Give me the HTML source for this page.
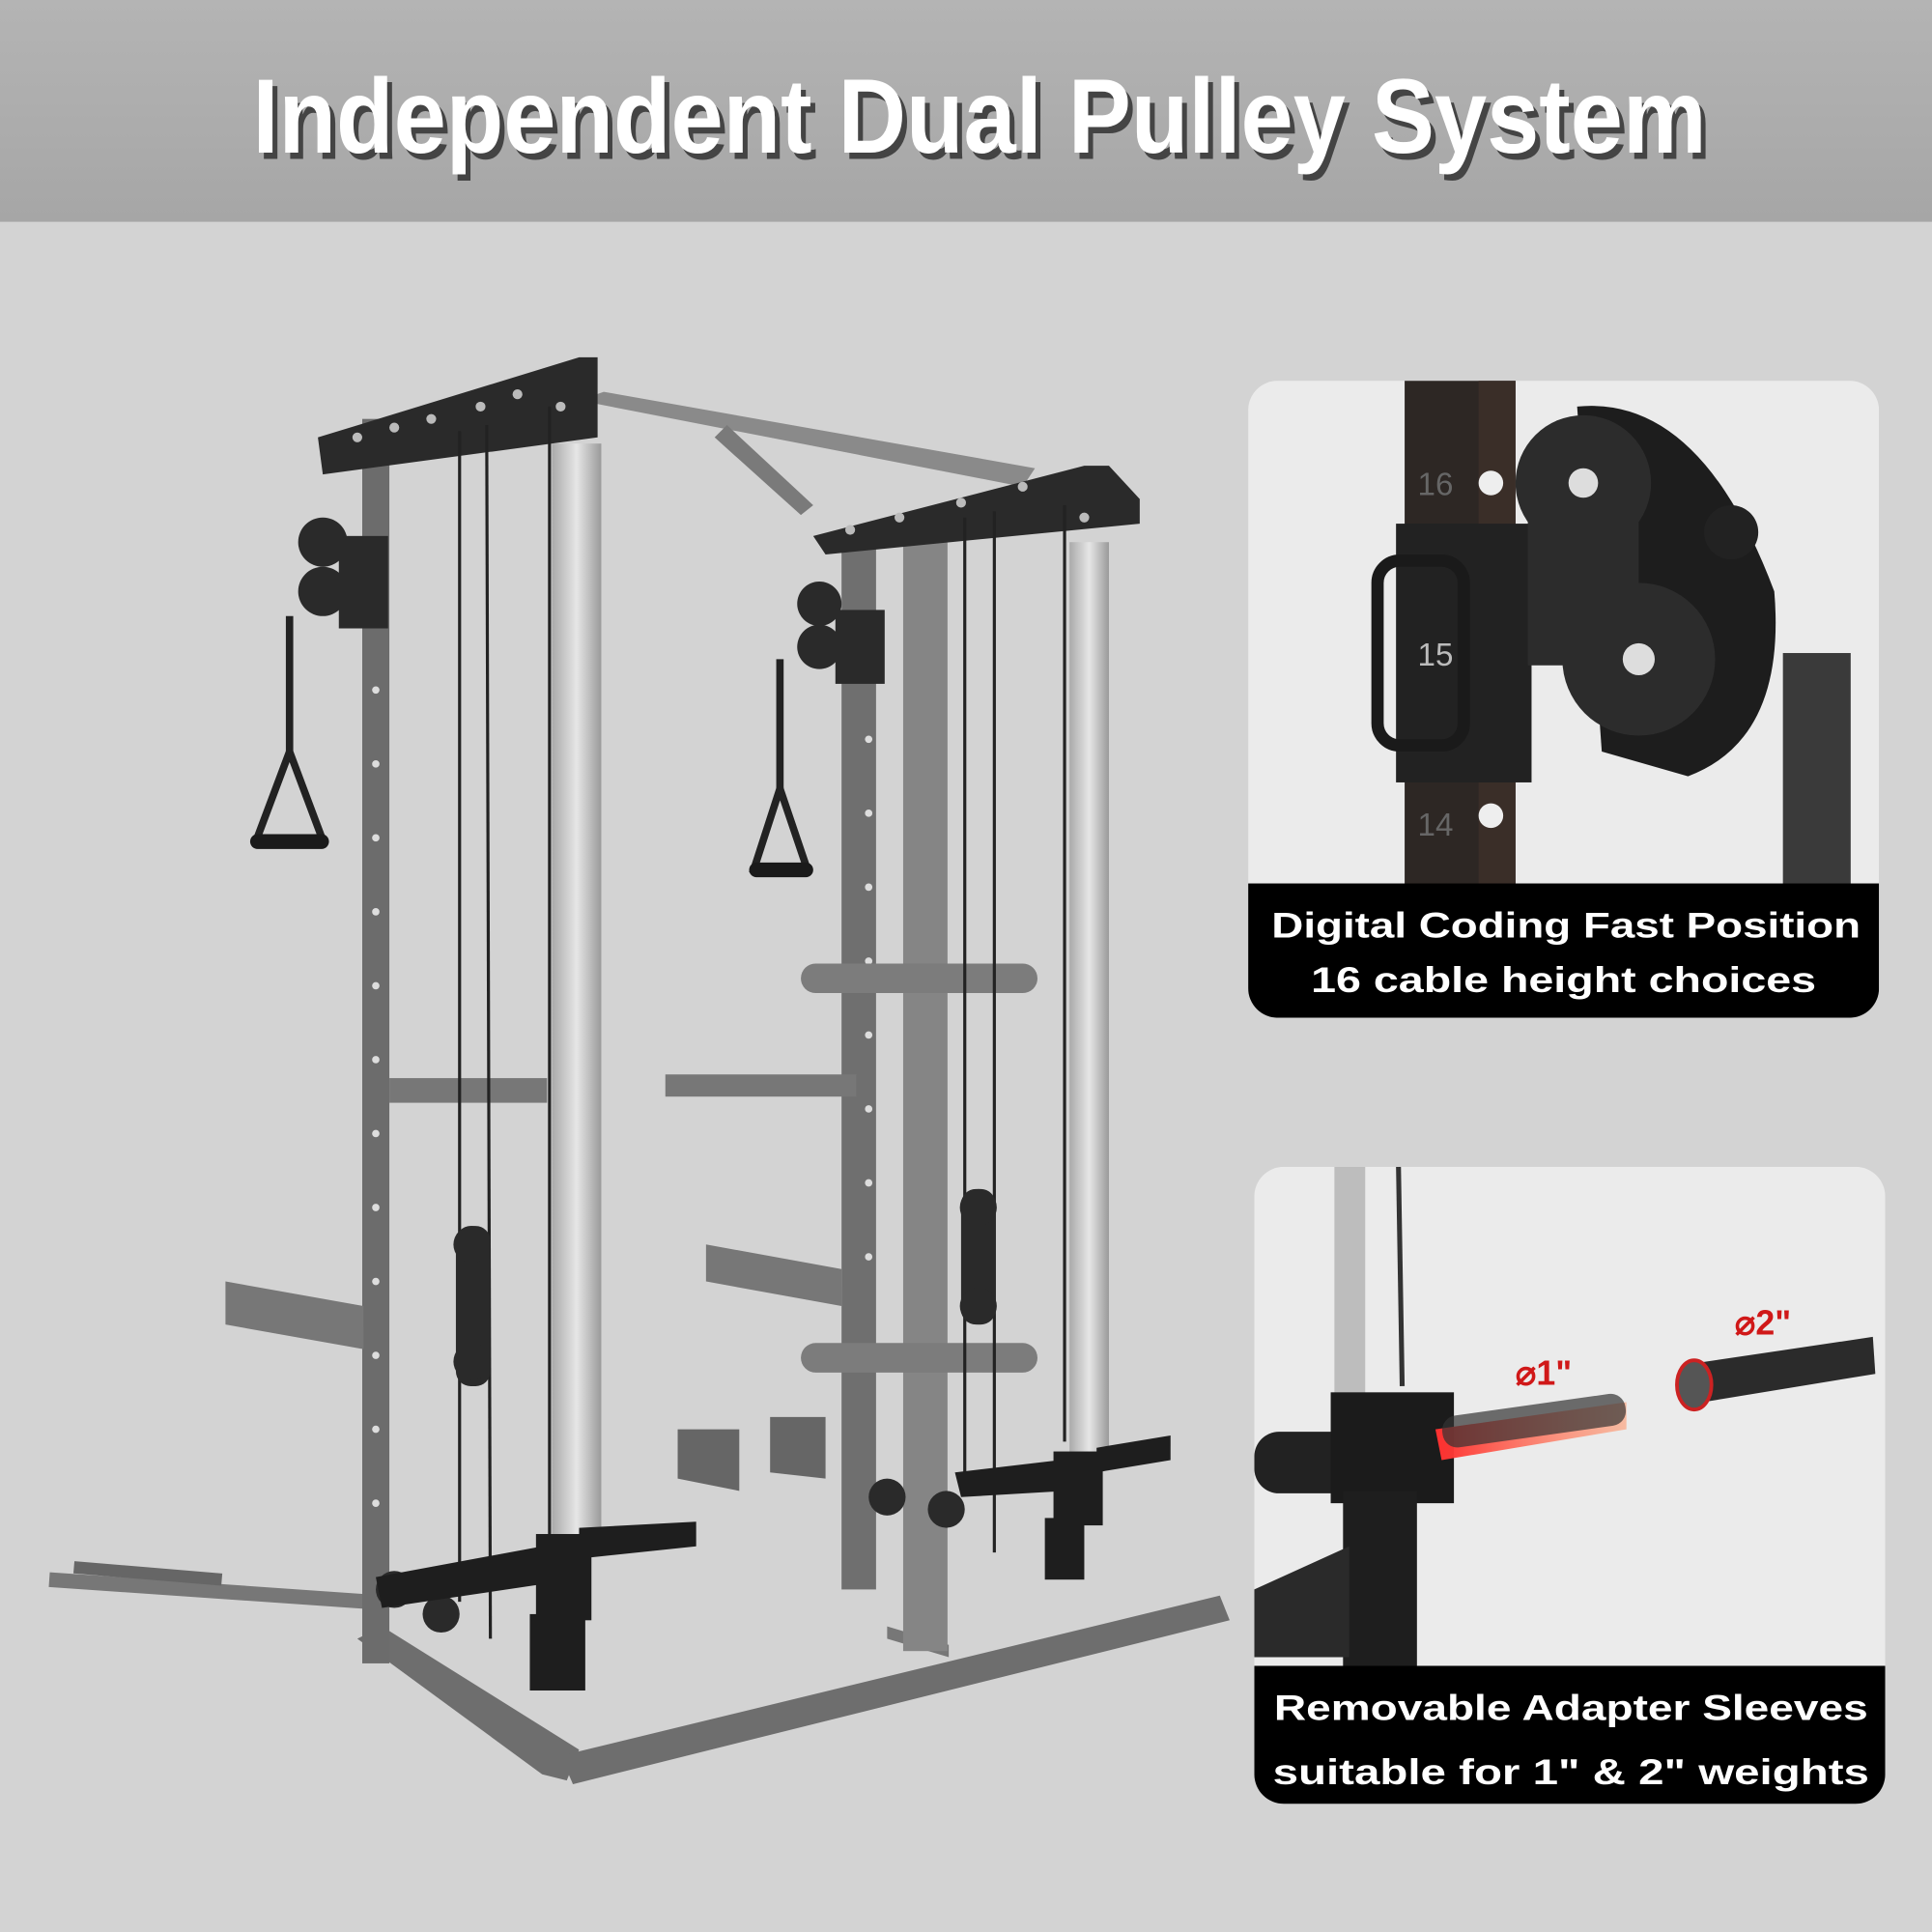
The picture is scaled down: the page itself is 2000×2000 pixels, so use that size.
<!DOCTYPE html>
<html><head><meta charset="utf-8"><style>
html,body{margin:0;padding:0;width:2000px;height:2000px;overflow:hidden;background:#d3d3d3}
svg{display:block}
</style></head><body>
<svg width="2000" height="2000" viewBox="0 0 1568 1568" xmlns="http://www.w3.org/2000/svg">
<defs>
<linearGradient id="hdr" x1="0" y1="0" x2="0" y2="1"><stop offset="0" stop-color="#b4b4b4"/><stop offset="1" stop-color="#a6a6a6"/></linearGradient>
<linearGradient id="silver" x1="0" y1="0" x2="1" y2="0"><stop offset="0" stop-color="#aaa"/><stop offset=".5" stop-color="#e6e6e6"/><stop offset="1" stop-color="#9a9a9a"/></linearGradient>
<linearGradient id="red" x1="0" y1="0" x2="1" y2="0"><stop offset="0" stop-color="#ff3030"/><stop offset="1" stop-color="#ff9a70" stop-opacity=".6"/></linearGradient>
<clipPath id="c1"><rect x="1013" y="309" width="512" height="517" rx="24"/></clipPath>
<clipPath id="c2"><rect x="1018" y="947" width="512" height="517" rx="24"/></clipPath>
</defs>
<rect width="1568" height="1568" fill="#d3d3d3"/>
<rect width="1568" height="180" fill="url(#hdr)"/>
<text x="799" y="129" font-family="Liberation Sans Narrow, Liberation Sans, sans-serif" font-weight="bold" font-size="86" fill="#444" textLength="1180" lengthAdjust="spacingAndGlyphs" text-anchor="middle">Independent Dual Pulley System</text>
<text x="795" y="124" font-family="Liberation Sans Narrow, Liberation Sans, sans-serif" font-weight="bold" font-size="86" fill="#fff" textLength="1180" lengthAdjust="spacingAndGlyphs" text-anchor="middle">Independent Dual Pulley System</text>

<!-- rack -->
<g>
<!-- base -->
<polygon points="290,1330 310,1320 470,1420 460,1445 440,1440" fill="#6e6e6e"/>
<polygon points="455,1425 990,1295 998,1315 465,1448" fill="#6e6e6e"/>
<polygon points="720,1320 770,1335 770,1345 720,1330" fill="#777"/>
<line x1="40" y1="1282" x2="300" y2="1300" stroke="#777" stroke-width="12"/>
<line x1="60" y1="1272" x2="180" y2="1282" stroke="#666" stroke-width="10"/>
<!-- top grey crossbar -->
<polygon points="470,325 490,318 840,380 830,395" fill="#8a8a8a"/>
<polygon points="590,345 660,410 650,418 580,355" fill="#7a7a7a"/>
<!-- uprights -->
<rect x="294" y="340" width="22" height="1010" fill="#6c6c6c"/>
<rect x="448" y="360" width="40" height="890" fill="url(#silver)"/>
<rect x="683" y="430" width="28" height="860" fill="#6f6f6f"/>
<rect x="733" y="420" width="36" height="920" fill="#858585"/>
<rect x="868" y="440" width="32" height="750" fill="url(#silver)"/>
<!-- holes -->
<g fill="#ddd">
<circle cx="305" cy="560" r="3"/><circle cx="305" cy="620" r="3"/><circle cx="305" cy="680" r="3"/><circle cx="305" cy="740" r="3"/><circle cx="305" cy="800" r="3"/><circle cx="305" cy="860" r="3"/><circle cx="305" cy="920" r="3"/><circle cx="305" cy="980" r="3"/><circle cx="305" cy="1040" r="3"/><circle cx="305" cy="1100" r="3"/><circle cx="305" cy="1160" r="3"/><circle cx="305" cy="1220" r="3"/>
<circle cx="705" cy="600" r="3"/><circle cx="705" cy="660" r="3"/><circle cx="705" cy="720" r="3"/><circle cx="705" cy="780" r="3"/><circle cx="705" cy="840" r="3"/><circle cx="705" cy="900" r="3"/><circle cx="705" cy="960" r="3"/><circle cx="705" cy="1020" r="3"/>
</g>
<!-- crossbars -->
<rect x="316" y="875" width="128" height="20" fill="#777"/>
<rect x="540" y="872" width="155" height="18" fill="#777"/>
<rect x="650" y="782" width="192" height="24" rx="12" fill="#7c7c7c"/>
<rect x="650" y="1090" width="192" height="24" rx="12" fill="#7c7c7c"/>
<polygon points="183,1040 295,1060 295,1095 183,1075" fill="#777"/>
<polygon points="573,1010 683,1030 683,1060 573,1040" fill="#777"/>
<polygon points="550,1160 600,1160 600,1210 550,1200" fill="#666"/>
<polygon points="625,1150 670,1150 670,1200 625,1195" fill="#666"/>
<!-- top black beams -->
<polygon points="258,355 470,290 485,290 485,355 262,385" fill="#2a2a2a"/>
<polygon points="660,435 880,378 900,378 925,405 925,425 670,450" fill="#2a2a2a"/>
<g fill="#bbb"><circle cx="290" cy="355" r="4"/><circle cx="320" cy="347" r="4"/><circle cx="350" cy="340" r="4"/><circle cx="390" cy="330" r="4"/><circle cx="420" cy="320" r="4"/><circle cx="455" cy="330" r="4"/><circle cx="690" cy="430" r="4"/><circle cx="730" cy="420" r="4"/><circle cx="780" cy="408" r="4"/><circle cx="830" cy="395" r="4"/><circle cx="880" cy="420" r="4"/></g>
<!-- cables -->
<g stroke="#222" stroke-width="2.5">
<line x1="373" y1="350" x2="373" y2="1300"/><line x1="395" y1="345" x2="398" y2="1330"/><line x1="446" y1="330" x2="446" y2="1250"/>
<line x1="783" y1="420" x2="783" y2="1210"/><line x1="807" y1="415" x2="807" y2="1260"/><line x1="864" y1="410" x2="864" y2="1170"/>
</g>
<!-- pulleys -->
<g fill="#2a2a2a">
<rect x="370" y="995" width="28" height="130" rx="12"/><circle cx="383" cy="1010" r="15"/><circle cx="383" cy="1105" r="15"/>
<rect x="780" y="965" width="28" height="110" rx="12"/><circle cx="794" cy="980" r="15"/><circle cx="794" cy="1060" r="15"/>
<circle cx="262" cy="440" r="20"/><circle cx="262" cy="480" r="20"/>
<circle cx="665" cy="490" r="18"/><circle cx="665" cy="525" r="18"/>
<rect x="275" y="435" width="40" height="75"/><rect x="678" y="495" width="40" height="60"/>
<circle cx="320" cy="1290" r="15"/><circle cx="358" cy="1310" r="15"/><circle cx="720" cy="1215" r="15"/><circle cx="768" cy="1225" r="15"/>
</g>
<!-- handles -->
<g stroke="#222" stroke-width="6" fill="none">
<line x1="235" y1="500" x2="235" y2="610"/><polygon points="235,610 208,682 262,682"/>
<line x1="633" y1="535" x2="633" y2="640"/><polygon points="633,640 612,705 655,705"/>
</g>
<rect x="203" y="677" width="64" height="12" rx="6" fill="#1a1a1a"/><rect x="608" y="700" width="52" height="12" rx="6" fill="#1a1a1a"/>
<!-- sleeves -->
<g fill="#1e1e1e">
<polygon points="305,1280 440,1255 445,1285 310,1305"/><polygon points="470,1240 565,1235 565,1255 470,1265"/>
<rect x="435" y="1245" width="45" height="70"/><rect x="430" y="1310" width="45" height="62"/>
<polygon points="775,1195 860,1185 865,1210 780,1215"/><polygon points="890,1175 950,1165 950,1185 890,1195"/>
<rect x="855" y="1178" width="40" height="60"/><rect x="848" y="1232" width="32" height="50"/>
</g>
</g>

<!-- panel 1 -->
<g clip-path="url(#c1)">
<rect x="1013" y="309" width="512" height="517" fill="#ebebeb"/>
<rect x="1140" y="309" width="90" height="410" fill="#2d2724"/>
<rect x="1200" y="309" width="30" height="410" fill="#3a2e28"/>
<rect x="1133" y="425" width="110" height="210" fill="#222"/>
<rect x="1118" y="455" width="70" height="150" rx="18" fill="none" stroke="#1a1a1a" stroke-width="10"/>
<text x="1165" y="402" font-family="Liberation Sans, sans-serif" font-size="26" fill="#666" text-anchor="middle">16</text>
<text x="1165" y="540" font-family="Liberation Sans, sans-serif" font-size="26" fill="#bbb" text-anchor="middle">15</text>
<text x="1165" y="678" font-family="Liberation Sans, sans-serif" font-size="26" fill="#666" text-anchor="middle">14</text>
<circle cx="1210" cy="392" r="10" fill="#eee"/><circle cx="1210" cy="662" r="10" fill="#eee"/>
<path d="M1280,330 Q1380,320 1440,480 Q1450,600 1370,630 L1300,610 Z" fill="#1d1d1d"/>
<circle cx="1285" cy="392" r="55" fill="#2c2c2c"/><circle cx="1330" cy="535" r="62" fill="#2c2c2c"/>
<rect x="1240" y="390" width="90" height="150" fill="#2c2c2c"/>
<circle cx="1285" cy="392" r="12" fill="#ddd"/><circle cx="1330" cy="535" r="13" fill="#ddd"/>
<circle cx="1405" cy="432" r="22" fill="#222"/>
<rect x="1447" y="530" width="55" height="190" fill="#3a3a3a"/>
<rect x="1013" y="717" width="512" height="109" fill="#000"/>
<text x="1271" y="761" font-family="Liberation Sans, sans-serif" font-weight="bold" font-size="29" fill="#fff" text-anchor="middle" textLength="478" lengthAdjust="spacingAndGlyphs">Digital Coding Fast Position</text>
<text x="1269" y="805" font-family="Liberation Sans, sans-serif" font-weight="bold" font-size="29" fill="#fff" text-anchor="middle" textLength="410" lengthAdjust="spacingAndGlyphs">16 cable height choices</text>
</g>

<!-- panel 2 -->
<g clip-path="url(#c2)">
<rect x="1018" y="947" width="512" height="517" fill="#ebebeb"/>
<rect x="1083" y="947" width="25" height="200" fill="#bdbdbd"/>
<line x1="1135" y1="947" x2="1138" y2="1125" stroke="#333" stroke-width="4"/>
<rect x="1018" y="1162" width="150" height="50" rx="20" fill="#222"/>
<rect x="1080" y="1130" width="100" height="90" fill="#1b1b1b"/>
<rect x="1090" y="1210" width="60" height="145" fill="#1e1e1e"/>
<polygon points="1018,1290 1095,1255 1095,1345 1018,1345" fill="#2a2a2a"/>
<polygon points="1165,1160 1320,1138 1320,1160 1170,1185" fill="url(#red)"/>
<rect x="1170" y="1140" width="150" height="26" rx="12" transform="rotate(-8 1245 1153)" fill="#333" opacity=".7"/>
<polygon points="1365,1108 1520,1085 1522,1115 1370,1140" fill="#2b2b2b"/>
<ellipse cx="1375" cy="1124" rx="14" ry="20" fill="#555" stroke="#c22" stroke-width="3"/>
<text x="1230" y="1124" font-family="Liberation Sans, sans-serif" font-weight="bold" font-size="28" fill="#d01818">⌀1"</text>
<text x="1408" y="1083" font-family="Liberation Sans, sans-serif" font-weight="bold" font-size="28" fill="#d01818">⌀2"</text>
<rect x="1018" y="1352" width="512" height="112" fill="#000"/>
<text x="1275" y="1396" font-family="Liberation Sans, sans-serif" font-weight="bold" font-size="29" fill="#fff" text-anchor="middle" textLength="482" lengthAdjust="spacingAndGlyphs">Removable Adapter Sleeves</text>
<text x="1275" y="1448" font-family="Liberation Sans, sans-serif" font-weight="bold" font-size="29" fill="#fff" text-anchor="middle" textLength="484" lengthAdjust="spacingAndGlyphs">suitable for 1" &amp; 2" weights</text>
</g>
</svg>
</body></html>
